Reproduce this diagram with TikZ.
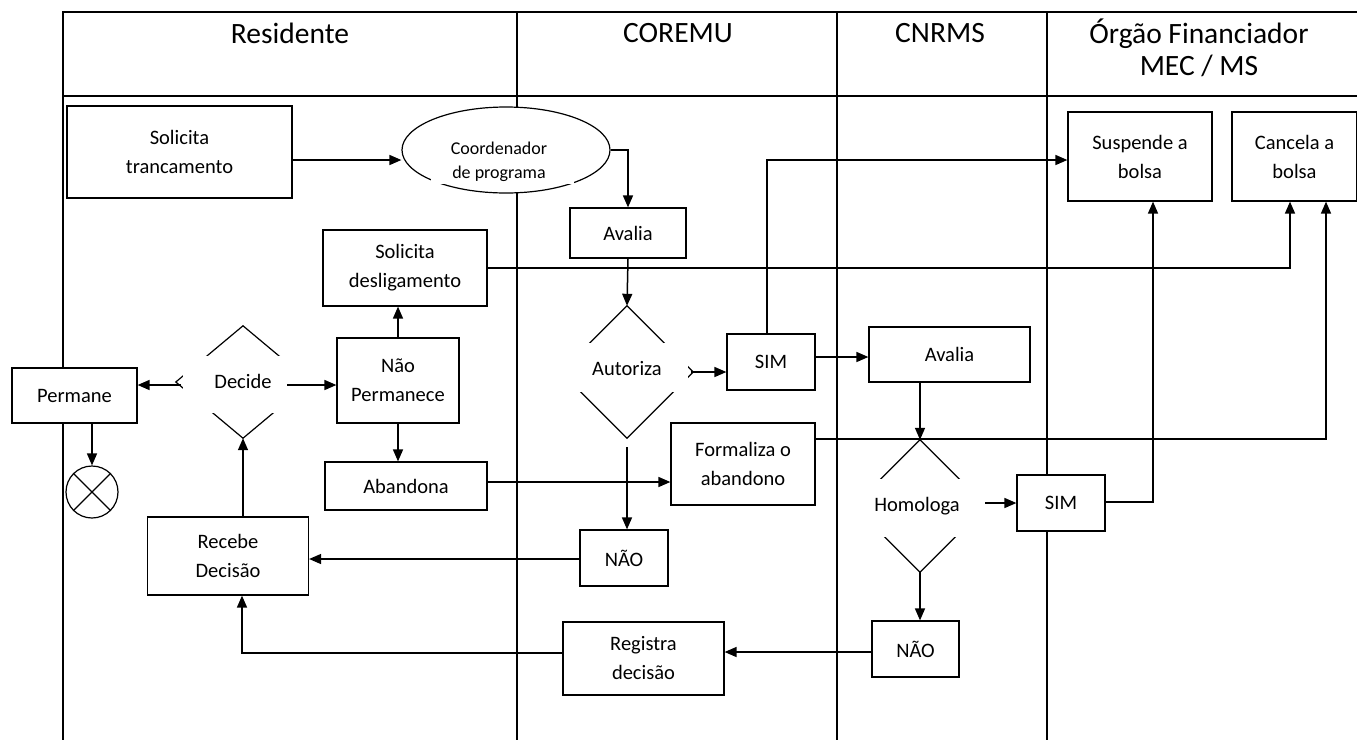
\documentclass[tikz,border=0pt]{standalone}
\usepackage{fontspec}
\setmainfont{Carlito}
\usetikzlibrary{arrows.meta,shapes.geometric}
\begin{document}
\begin{tikzpicture}[x=1pt,y=-1pt,
  lane/.style={line width=1.7pt},
  box/.style={draw, line width=1.2pt, fill=white, inner sep=0pt, align=center,
              font=\fontsize{20.5}{29}\selectfont},
  hdr/.style={font=\fontsize{29.5}{32}\selectfont, align=center, inner sep=0pt},
  dtext/.style={fill=white, inner sep=0pt, font=\fontsize{20.5}{29}\selectfont},
  conn/.style={line width=1.5pt},
  arr/.style={line width=1.5pt, -{Triangle[length=12pt,width=10pt]}},
  ghost/.style={diamond, draw=none, inner sep=0pt, minimum width=132pt, minimum height=132pt, aspect=1}
]
\useasboundingbox (0,0) rectangle (1357,740);

% swimlane frame
\draw[lane] (1357,12) -- (63,12) -- (63,740);
\draw[lane] (63,96) -- (1357,96);
\draw[lane] (517,12) -- (517,740);
\draw[lane] (837,12) -- (837,740);
\draw[lane] (1047,12) -- (1047,740);

\node[hdr] (hres) at (290,33) {Residente};
\node[hdr] (hcor) at (678,33) {COREMU};
\node[hdr] (hcnr) at (940,33) {CNRMS};
\node[hdr] (horg) at (1199,48) {Órgão Financiador\\MEC / MS};

% boxes
\node[box, minimum width=225pt, minimum height=92pt] (solTr) at (179.5,152) {Solicita\\trancamento};
\node[ellipse, draw, line width=1.2pt, fill=white, inner sep=0pt, minimum width=208pt, minimum height=86pt] (coord) at (506,150) {};
\fill[white] (431,171) rectangle (574,183.5);
\begin{scope}
  \clip (400,100) rectangle (620,182.5);
  \node[inner sep=0pt, font=\fontsize{18}{24}\selectfont] (coordA) at (499,148) {Coordenador};
  \node[inner sep=0pt, font=\fontsize{18}{24}\selectfont, anchor=base] (coordB) at (499,178.5) {de programa};
\end{scope}

\node[box, minimum width=116pt, minimum height=50pt] (aval1) at (628,233) {Avalia};
\node[box, minimum width=88pt, minimum height=56pt] (sim1) at (771,362) {SIM};
\node[box, minimum width=164pt, minimum height=76pt] (desl) at (405,268) {Solicita\\desligamento};
\node[box, minimum width=122pt, minimum height=85pt] (naoP) at (398,380.5) {Não\\Permanece};
\node[box, minimum width=162pt, minimum height=48pt] (aband) at (406,486) {Abandona};
\node[box, minimum width=144pt, minimum height=82pt] (forma) at (743,464) {Formaliza o\\abandono};
\node[box, minimum width=88pt, minimum height=56pt] (naoC) at (624,558) {NÃO};
\node[box, minimum width=161pt, minimum height=78pt] (receb) at (228,556) {Recebe\\Decisão};
\node[box, minimum width=125pt, minimum height=55pt] (perm) at (74.5,395.5) {Permane};
\node[draw, circle, line width=1.2pt, inner sep=0pt, minimum size=52pt] (fim) at (92,492) {};
\draw[line width=1.2pt] (fim.north west) -- (fim.south east) (fim.north east) -- (fim.south west);
\node[box, minimum width=161pt, minimum height=55pt] (aval2) at (949.5,354.5) {Avalia};
\node[box, minimum width=88pt, minimum height=56pt] (sim2) at (1061,503) {SIM};
\node[box, minimum width=87pt, minimum height=56pt] (naoN) at (915.5,649) {NÃO};
\node[box, minimum width=161pt, minimum height=73pt] (regis) at (643.5,658.5) {Registra\\decisão};
\node[box, minimum width=144pt, minimum height=89pt] (susp) at (1140,156.5) {Suspende a\\bolsa};
\node[box, minimum width=125pt, minimum height=89pt] (canc) at (1294.5,156.5) {Cancela a\\bolsa};

% decision diamonds (drawn partly, middle masked by the label)
\node[ghost, minimum width=134pt, minimum height=112pt] (decide) at (243,382) {};
\draw[line width=1.2pt] (decide.north) -- (decide.east) -- (decide.south) -- (decide.west) -- cycle;
\fill[white] (183,356) rectangle (312,413);
\node[dtext] (decideT) at (243,381) {Decide};

\node[ghost] (autor) at (627,372) {};
\draw[line width=1.2pt] (autor.north) -- (autor.east) -- (autor.south) -- (autor.west) -- cycle;
\fill[white] (556,343) rectangle (688,392);
\node[dtext] (autorT) at (627,369) {Autoriza};

\node[ghost] (homol) at (920,506) {};
\draw[line width=1.2pt] (homol.north) -- (homol.east) -- (homol.south) -- (homol.west) -- cycle;
\fill[white] (850,479) rectangle (990,537);
\node[dtext] (homolT) at (917,506) {Homologa};

% connectors
\draw[arr] (solTr.east |- 0,160) -- (coord.west |- 0,160);
\draw[arr] (coord.east) -- (aval1.north |- coord.east) -- (aval1.north);
\draw[arr] (aval1.south) -- (autor.north);
\draw[arr] ([xshift=-2pt]autor.east) -- (sim1.west |- autor.east);
\draw[arr] (sim1.east |- 0,357) -- (aval2.west |- 0,357);
\draw[arr] (sim1.north -| 767,0) -- (767,160) -- (susp.west |- 0,160);
\draw[arr] (desl.east) -- (1290,268) -- (1290,0 |- canc.south);
\draw[arr] (forma.east |- 0,439) -- (1326,439) -- (1326,0 |- canc.south);
\draw[arr] (aval2.south -| homol.north) -- (homol.north);
\draw[arr] (985,503) -- (sim2.west |- 0,503);
\draw[arr] (sim2.east |- 0,502) -- (1153,502) -- (1153,0 |- susp.south);
\draw[arr] (homol.south) -- (naoN.north -| homol.south);
\draw[arr] (naoN.west |- 0,652) -- (regis.east |- 0,652);
\draw[arr] (regis.west |- 0,653) -- (242,653) -- (242,0 |- receb.south);
\draw[arr] (naoC.west |- 0,559) -- (receb.east |- 0,559);
\draw[arr] ([yshift=-9pt]autor.south) -- (naoC.north -| autor.south);
\draw[arr] (aband.east |- 0,482) -- (forma.west |- 0,482);
\draw[arr] (naoP.north) -- (naoP.north |- desl.south);
\draw[arr] (naoP.south) -- (naoP.south |- aband.north);
\draw[arr] (287,385) -- (naoP.west |- 0,385);
\draw[arr] (181,385) -- (perm.east |- 0,385);
\draw[arr] (receb.north -| decide.south) -- (decide.south);
\draw[arr] (perm.south -| fim.north) -- (fim.north);
\end{tikzpicture}
\end{document}
